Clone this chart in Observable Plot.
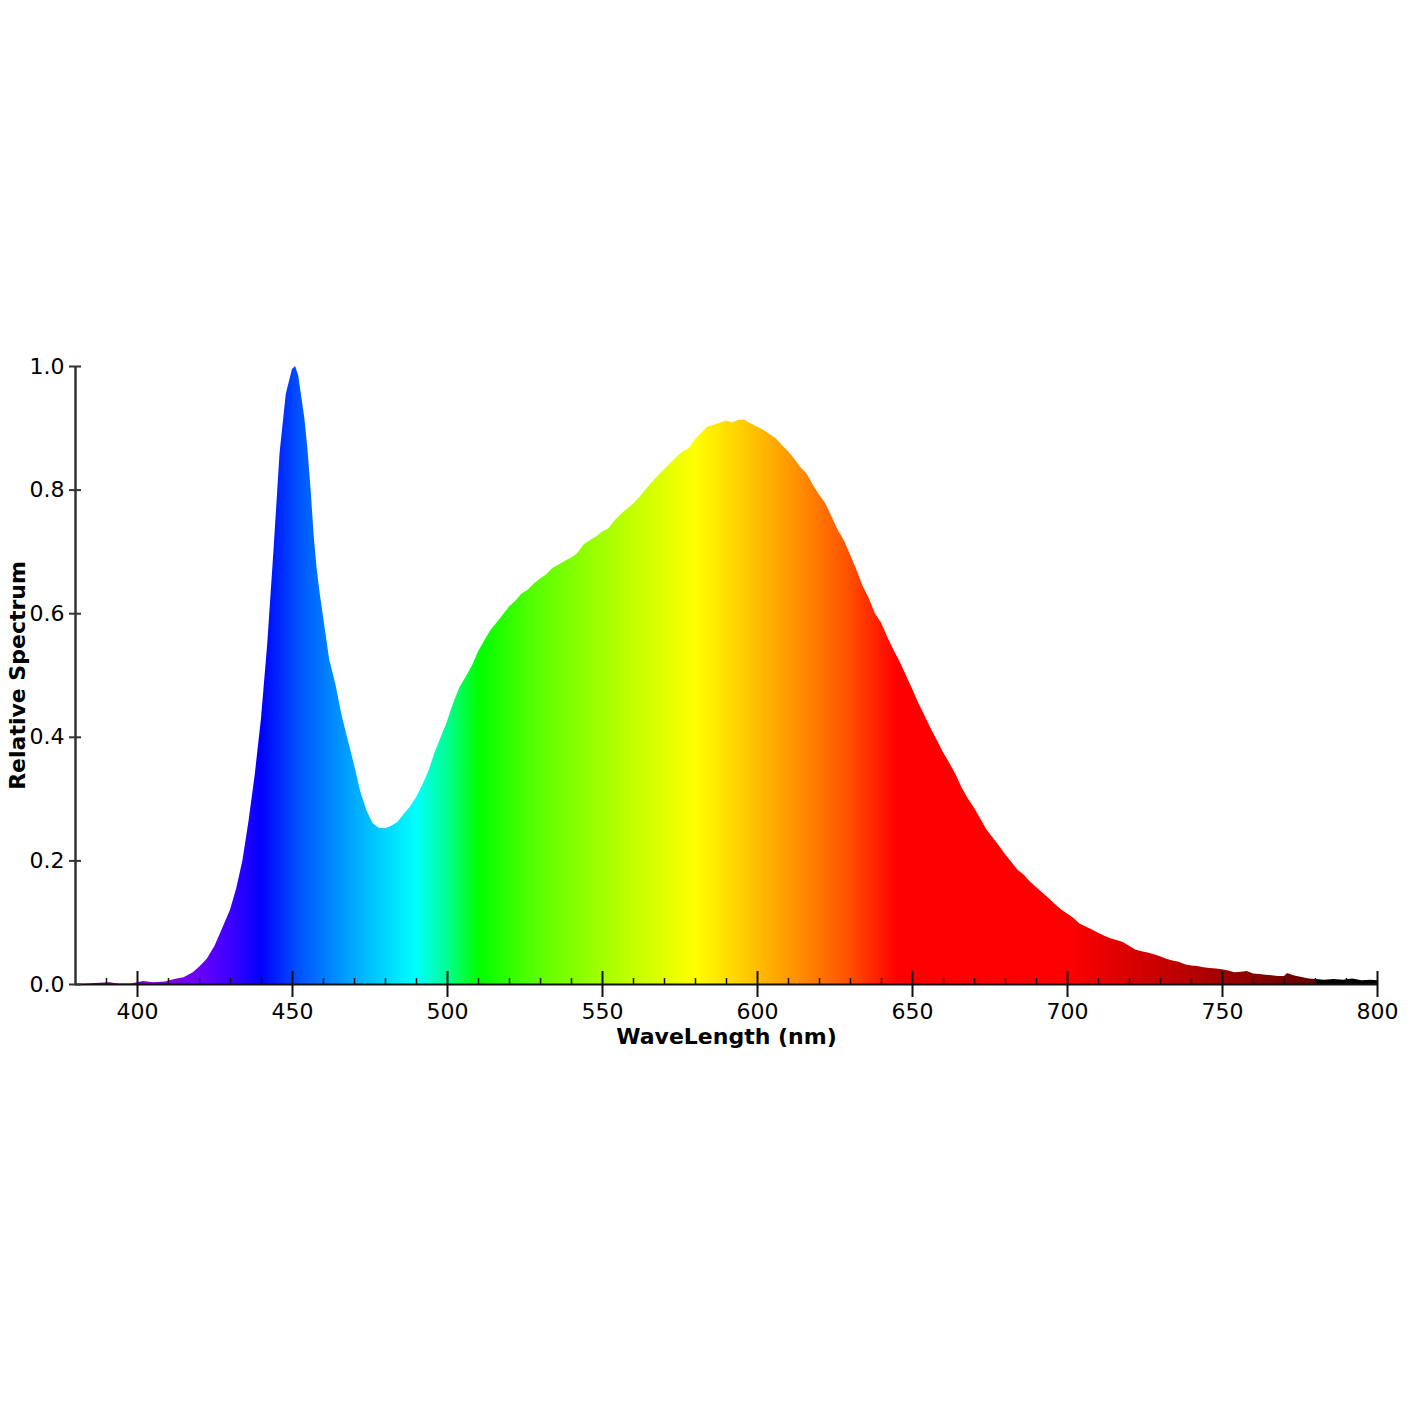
<!DOCTYPE html>
<html><head><meta charset="utf-8">
<script src="https://cdn.jsdelivr.net/npm/d3@7"></script>
<script src="https://cdn.jsdelivr.net/npm/@observablehq/plot@0.6"></script>
<style>body{margin:0;background:#fff}</style>
</head><body><div id="chart"></div>
<script>
const wavelengths = [380,384,388,391,394,398,402,405,409,412,415,418,420,422.5,425,427,430,432,434,436,438,440,442,444,446,448,450,451,452,453,454,455,456,457,458,459,460,462,464,466,468,470,472,474,476,478,480,482,484,486,488,490,492,494,496,498,500,502,504,506,508,510,512,514,516,518,520,522,524,526,528,530,532,534,536,538,540,542,544,546,548,550,552,554,556,558,560,562,564,566,568,570,572,574,576,578,580,582,584,586,588,590,592,594,596,598,600,602,604,606,608,610,612,614,616,618,620,622,624,626,628,630,632,634,636,638,640,642,644,646,648,650,652,654,656,658,660,662,664,666,668,670,672,674,676,678,680,682,684,686,688,690,692,694,696,698,700,702,704,706,708,710,712,714,716,718,720,722,724,726,728,730,732,734,736,738,740,742,744,746,748,750,752,754,756,758,760,762,764,766,768,770,771,773,776,778,780,783,786,789,792,795,798,800];
const intensities = [0.000,0.001,0.002,0.003,0.001,0.001,0.005,0.003,0.004,0.008,0.011,0.019,0.028,0.041,0.062,0.085,0.120,0.155,0.200,0.265,0.340,0.430,0.550,0.700,0.860,0.955,0.995,1.000,0.985,0.950,0.915,0.865,0.800,0.725,0.670,0.630,0.595,0.525,0.485,0.435,0.395,0.355,0.312,0.281,0.260,0.253,0.252,0.256,0.262,0.275,0.287,0.302,0.322,0.345,0.375,0.400,0.425,0.455,0.480,0.497,0.515,0.538,0.556,0.573,0.585,0.598,0.611,0.620,0.632,0.638,0.648,0.656,0.663,0.673,0.679,0.685,0.690,0.697,0.711,0.718,0.724,0.732,0.737,0.750,0.760,0.769,0.777,0.788,0.800,0.812,0.823,0.833,0.843,0.853,0.862,0.867,0.882,0.892,0.902,0.905,0.908,0.912,0.909,0.913,0.913,0.907,0.902,0.897,0.890,0.883,0.872,0.862,0.850,0.836,0.826,0.808,0.792,0.778,0.757,0.735,0.718,0.695,0.671,0.645,0.625,0.600,0.585,0.562,0.541,0.522,0.500,0.478,0.455,0.435,0.414,0.395,0.375,0.358,0.340,0.318,0.300,0.285,0.268,0.250,0.237,0.224,0.210,0.198,0.185,0.177,0.166,0.157,0.148,0.139,0.130,0.121,0.114,0.107,0.098,0.093,0.088,0.083,0.078,0.074,0.071,0.068,0.062,0.056,0.053,0.051,0.048,0.045,0.041,0.038,0.036,0.032,0.030,0.029,0.027,0.026,0.025,0.024,0.022,0.019,0.020,0.021,0.017,0.016,0.015,0.014,0.013,0.013,0.018,0.014,0.011,0.009,0.008,0.007,0.008,0.007,0.009,0.006,0.007,0.006];

const xMajorTicks = [400,450,500,550,600,650,700,750,800];
const xMinorTicks = [390,410,420,430,440,460,470,480,490,510,520,530,540,560,570,580,590,610,620,630,640,660,670,680,690,710,720,730,740,760,770,780,790];
const yTicks = [0,0.2,0.4,0.6,0.8,1.0];
const xDomain = [380, 800];
const yDomain = [0, 1];
const xTitle = "WaveLength (nm)";
const yTitle = "Relative Spectrum";

// spectral colour stops (wavelength, colour)
const stopWavelengths = [380,390,400,410,420,430,440,452.5,465,477.5,490,500,510,527.5,545,562.5,580,596,612.5,629,645,700,720,740,760,780,780.01,800];
const stopColors = ["rgb(97,0,97)","rgb(121,0,140)","rgb(131,0,181)","rgb(125,0,218)","rgb(106,0,255)","rgb(61,0,255)","rgb(0,0,255)","rgb(0,84,255)","rgb(0,146,255)","rgb(0,203,255)","rgb(0,255,255)","rgb(0,255,146)","rgb(0,255,0)","rgb(84,255,0)","rgb(146,255,0)","rgb(203,255,0)","rgb(255,255,0)","rgb(255,203,0)","rgb(255,146,0)","rgb(255,83,0)","rgb(255,0,0)","rgb(255,0,0)","rgb(218,0,0)","rgb(181,0,0)","rgb(140,0,0)","rgb(97,0,0)","rgb(0,0,0)","rgb(0,0,0)"];

const data = wavelengths.map((w, i) => ({w, v: intensities[i]}));
const font = "'DejaVu Sans', sans-serif";

const chart = Plot.plot({
  width: 1420,
  height: 1420,
  marginLeft: 75,
  marginRight: 43,
  marginTop: 366,
  marginBottom: 436,
  style: {fontFamily: font, fontSize: "22px", background: "#fff", overflow: "visible"},
  x: {domain: xDomain},
  y: {domain: yDomain},
  marks: [
    Plot.areaY(data, {x: "w", y: "v", fill: "url(#spectrumGradient)", curve: "linear"}),
    Plot.ruleY([0], {x1: xDomain[0], x2: xDomain[1], stroke: "#111", strokeWidth: 2}),
    Plot.ruleX([xDomain[0]], {y1: yDomain[0], y2: yDomain[1], stroke: "#333", strokeWidth: 2.5}),
    Plot.ruleX(xMajorTicks, {y1: 0, y2: 0, insetTop: -13, insetBottom: -13, stroke: "#111", strokeWidth: 2}),
    Plot.ruleX(xMinorTicks, {y1: 0, y2: 0, insetTop: -6, insetBottom: 0, stroke: "#111", strokeWidth: 1.5}),
    Plot.ruleY(yTicks, {x1: xDomain[0], x2: xDomain[0], insetLeft: -6, insetRight: -6, stroke: "#333", strokeWidth: 2}),
    Plot.axisX({ticks: xMajorTicks, tickSize: 0, tickPadding: 19, tickFormat: d => String(d), label: null, fill: "#000", fontSize: 22}),
    Plot.axisY({ticks: yTicks, tickSize: 0, tickPadding: 11, tickFormat: d3.format(".1f"), label: null, fill: "#000", fontSize: 22}),
    Plot.text([xTitle], {frameAnchor: "bottom", dy: 59, fontWeight: "bold", fontSize: 22, fill: "#000"}),
    Plot.text([yTitle], {frameAnchor: "left", textAnchor: "middle", dx: -58, rotate: -90, fontWeight: "bold", fontSize: 22, fill: "#000"})
  ]
});

// gradient placed in the coordinate space of the x scale
const xs = chart.scale("x");
const ns = "http://www.w3.org/2000/svg";
const defs = document.createElementNS(ns, "defs");
const grad = document.createElementNS(ns, "linearGradient");
grad.setAttribute("id", "spectrumGradient");
grad.setAttribute("gradientUnits", "userSpaceOnUse");
grad.setAttribute("x1", xs.apply(xDomain[0]));
grad.setAttribute("x2", xs.apply(xDomain[1]));
grad.setAttribute("y1", 0);
grad.setAttribute("y2", 0);
const span = xDomain[1] - xDomain[0];
stopWavelengths.forEach((w, i) => {
  const s = document.createElementNS(ns, "stop");
  s.setAttribute("offset", ((w - xDomain[0]) / span).toFixed(5));
  s.setAttribute("stop-color", stopColors[i]);
  grad.appendChild(s);
});
defs.appendChild(grad);
chart.insertBefore(defs, chart.firstChild);
document.getElementById("chart").appendChild(chart);
</script>
</body></html>
